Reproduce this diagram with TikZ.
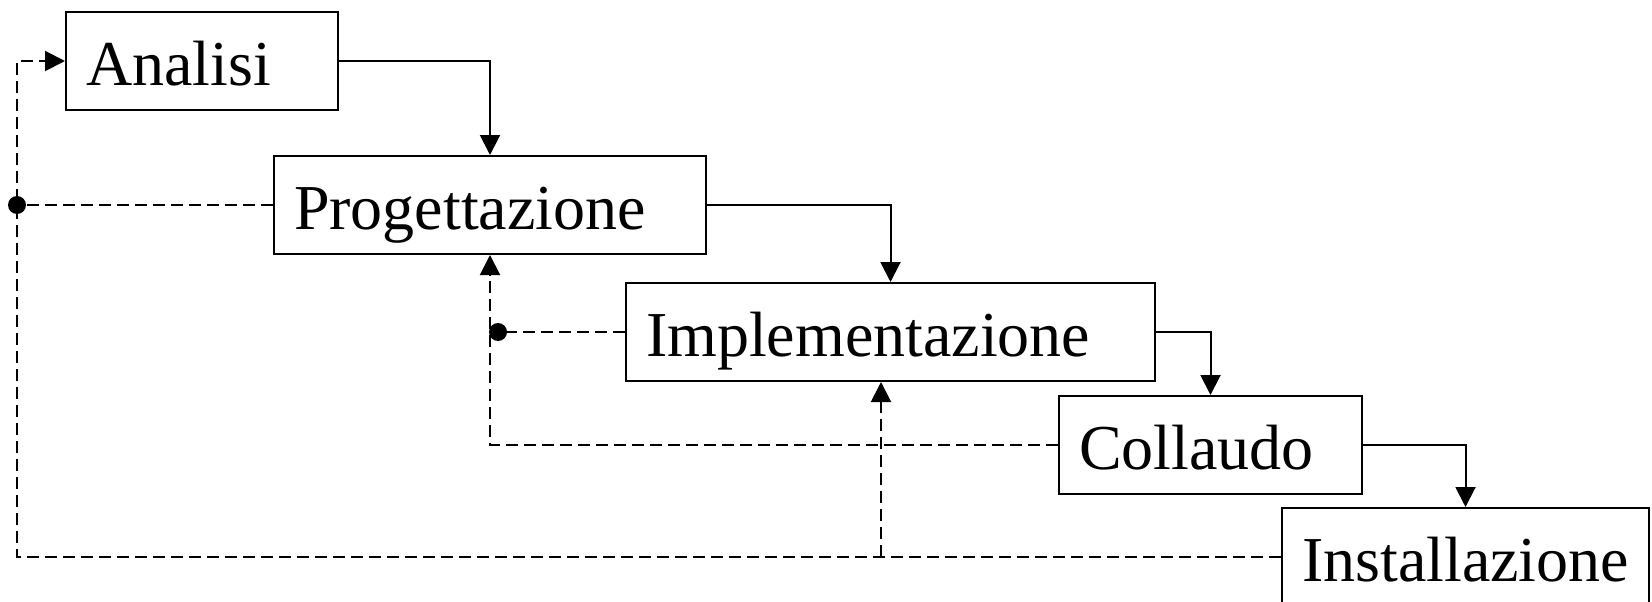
\documentclass[tikz,border=0pt]{standalone}
\usepackage{fontspec}
\setmainfont{Liberation Serif}
\usetikzlibrary{arrows.meta}
\begin{document}
\begin{tikzpicture}[x=1pt,y=-1pt,
  stage/.style={draw, line width=2pt, rectangle, anchor=north west,
    minimum height=98pt, inner xsep=20pt, inner ysep=0pt, align=left,
    font=\fontsize{64}{70}\selectfont, text height=48pt, text depth=0pt},
  tip/.style={-{Triangle[length=20pt,width=20pt]}},
  flow/.style={line width=2pt, tip},
  back/.style={line width=2pt, dash pattern=on 12pt off 6pt},
  dot/.style={circle, fill, inner sep=0pt, minimum size=18pt}]
\useasboundingbox (0,0) rectangle (1652,602);

\node[stage, text width=232pt] (A) at (65,11) {Analisi};
\node[stage, text width=392pt] (P) at (273,155) {Progettazione};
\node[stage, text width=489pt] (I) at (625,282) {Implementazione};
\node[stage, text width=263pt] (C) at (1058,395) {Collaudo};
\node[stage, text width=327pt] (N) at (1281,507) {Installazione};

% forward flow
\draw[flow] (A.east) -| (P.north);
\draw[flow] (P.east) -| (I.north);
\draw[flow] (I.east) -| (C.north);
\draw[flow] (C.east) -| (N.north);

% feedback
\coordinate (L) at (17,0);
\coordinate (DX) at (498,0);
\coordinate (BX) at (881,0);
\coordinate (BL) at (N.west -| L);
\node[dot] (d1) at (P.west -| L) {};
\node[dot] (d2) at (I.west -| DX) {};
\coordinate (BR) at (N.west -| BX);
\coordinate (IB) at (I.south -| BX);

\draw[back, tip] (N.west) -- (BL) |- (A.west);
\draw[back] (P.west) -- (d1.center);
\draw[back] (I.west) -- (d2.center);
\draw[back, tip] (C.west) -| (P.south);
\draw[back, tip] (BR) -- (IB);
\end{tikzpicture}
\end{document}
